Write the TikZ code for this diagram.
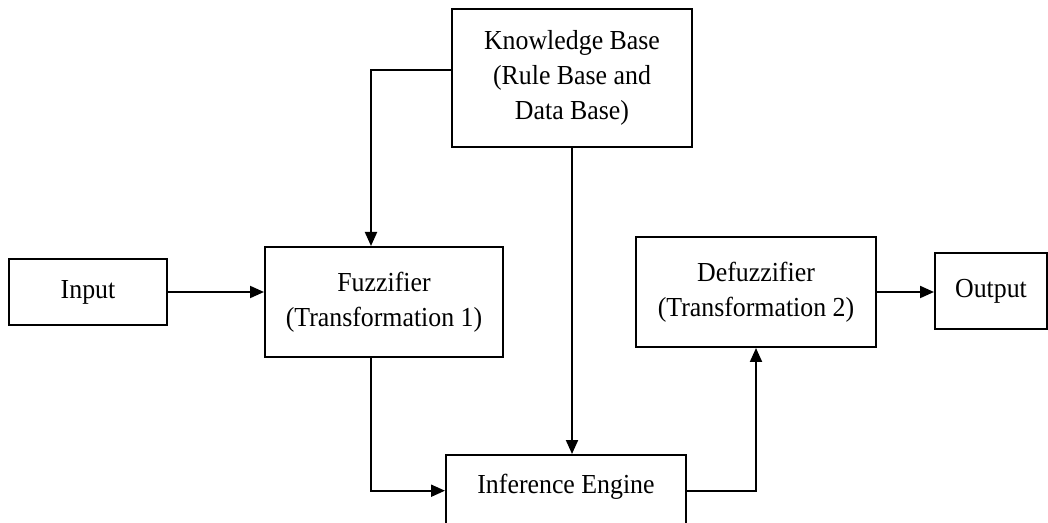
\documentclass[tikz,border=0pt]{standalone}
\usepackage{fontspec}
\setmainfont{Liberation Serif}[FakeStretch=0.94]
\usetikzlibrary{arrows.meta}

\begin{document}
\begin{tikzpicture}[
  x=1pt, y=1pt,
  box/.style={draw, line width=2pt, minimum width=240pt, minimum height=110pt, inner sep=4pt, align=center, font=\fontsize{27.5}{35}\selectfont},
  arr/.style={-{Triangle[length=14pt, width=12pt]}, line width=2pt}
]
\useasboundingbox (0,0) rectangle (1048,522);
\clip (0,0) rectangle (1048,522);

\node[box, minimum height=138pt] (kb) at (572,444) {Knowledge Base\\(Rule Base and\\Data Base)};
\node[box, minimum width=158pt, minimum height=66pt] (input) at (88,230) {Input};
\node[box, minimum width=238pt] (fuzz) at (384,220) {Fuzzifier\\(Transformation 1)};
\node[box] (defuzz) at (756,230) {Defuzzifier\\(Transformation 2)};
\node[box, minimum width=112pt, minimum height=76pt] (output) at (991,231) {Output};
% engine box runs past the lower edge, text sits near its top
\node[box, anchor=north, minimum height=0pt, text height=30pt, text depth=80pt, inner ysep=8pt] (ie) at (566,68) {Inference Engine};

\draw[arr] (input.east) -- (input.east -| fuzz.west);
\draw[arr] ([yshift=8pt]kb.west) -| ([xshift=-13pt]fuzz.north);
\draw[arr] (kb.south) -- (kb.south |- ie.north);
\draw[arr] ([xshift=-13pt]fuzz.south) |- (ie.mid west);
\draw[arr] (ie.mid east) -| (defuzz.south);
\draw[arr] (defuzz.east) -- (defuzz.east -| output.west);
\end{tikzpicture}
\end{document}
